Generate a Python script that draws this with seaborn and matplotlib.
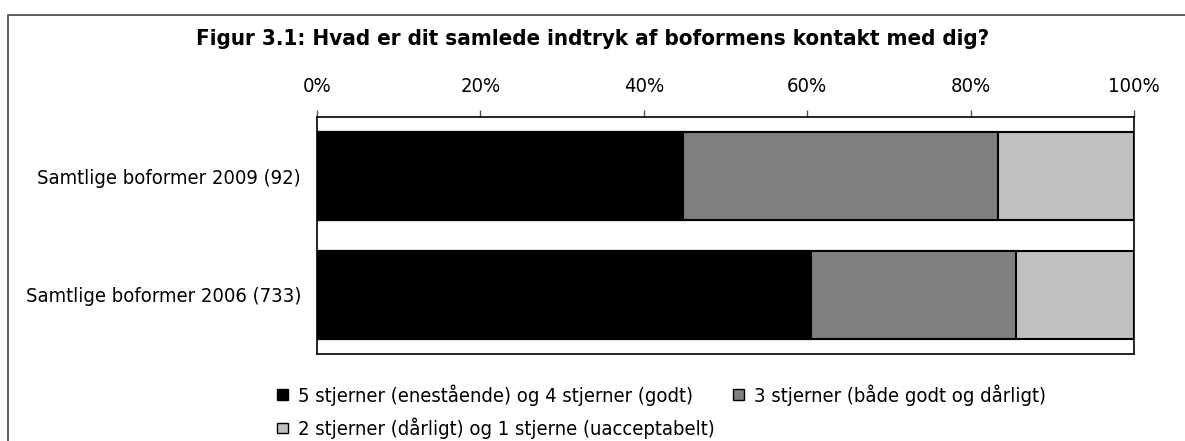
import numpy as np
import pandas as pd
import seaborn as sns
import matplotlib.pyplot as plt
from matplotlib.patches import Patch, Rectangle
from matplotlib.ticker import FuncFormatter

categories = ['Samtlige boformer 2009 (92)', 'Samtlige boformer 2006 (733)']
series_names = ['5 stjerner (enestående) og 4 stjerner (godt)',
                '3 stjerner (både godt og dårligt)',
                '2 stjerner (dårligt) og 1 stjerne (uacceptabelt)']
top_stars = [44.8, 60.5]
mid_stars = [38.6, 25.1]
low_stars = [16.6, 14.4]
colours = ['#000000', '#808080', '#c0c0c0']

sns.set_style('white')
plt.rcParams['font.family'] = ['DejaVu Sans']
plt.rcParams['font.stretch'] = 'condensed'
plt.rcParams['text.color'] = 'black'
plt.rcParams['xtick.labelcolor'] = 'black'
plt.rcParams['ytick.labelcolor'] = 'black'

df = pd.DataFrame({'cat': categories, 'a': top_stars, 'b': mid_stars, 'c': low_stars})
df['ab'] = df['a'] + df['b']
df['abc'] = df['ab'] + df['c']

fig = plt.figure(figsize=(11.85, 4.41), dpi=100)
ax = fig.add_axes([317 / 1185, 1 - 354 / 441, 817 / 1185, 237 / 441])

# stacked bars: draw cumulative totals from the back
for col, c in zip(['abc', 'ab', 'a'], colours[::-1]):
    sns.barplot(data=df, x=col, y='cat', color=c, edgecolor='black', linewidth=1.5,
                width=0.74, orient='h', ax=ax, saturation=1)

ax.set_xlim(0, 100)
ax.set_ylim(1.5, -0.5)
ax.set_xlabel('')
ax.set_ylabel('')
ax.xaxis.set_major_formatter(FuncFormatter(lambda v, p: '{:.0f}%'.format(v)))
ax.set_xticks([0, 20, 40, 60, 80, 100])
ax.xaxis.tick_top()
ax.tick_params(axis='x', direction='out', length=5, width=1, color='#555555',
               pad=10.3, labelsize=14.5, top=True, bottom=False)
ax.tick_params(axis='y', length=0, pad=11.5, labelsize=14.5)
for s in ax.spines.values():
    s.set_color('black')
    s.set_linewidth(1.2)

fig.text(0.5, 1 - 45 / 441, 'Figur 3.1: Hvad er dit samlede indtryk af boformens kontakt med dig?',
         ha='center', va='baseline', fontsize=16, fontweight='bold')

handles = [Patch(facecolor=c, edgecolor='black', linewidth=1) for c in colours]
order = [0, 2, 1]
fig.legend([handles[i] for i in order], [series_names[i] for i in order],
           loc='upper left', bbox_to_anchor=(277 / 1185, 1 - 384 / 441), ncol=2,
           frameon=False, fontsize=14.5, handlelength=0.55, handleheight=0.42,
           handletextpad=0.5, columnspacing=0.9, labelspacing=0.6, borderaxespad=0,
           borderpad=0)

fig.patches.append(Rectangle((8 / 1185, -0.05), 1.1, 1.05 - 15 / 441,
                             transform=fig.transFigure, fill=False,
                             edgecolor='#444444', linewidth=1.2))

fig.savefig('out.png', dpi=100)
